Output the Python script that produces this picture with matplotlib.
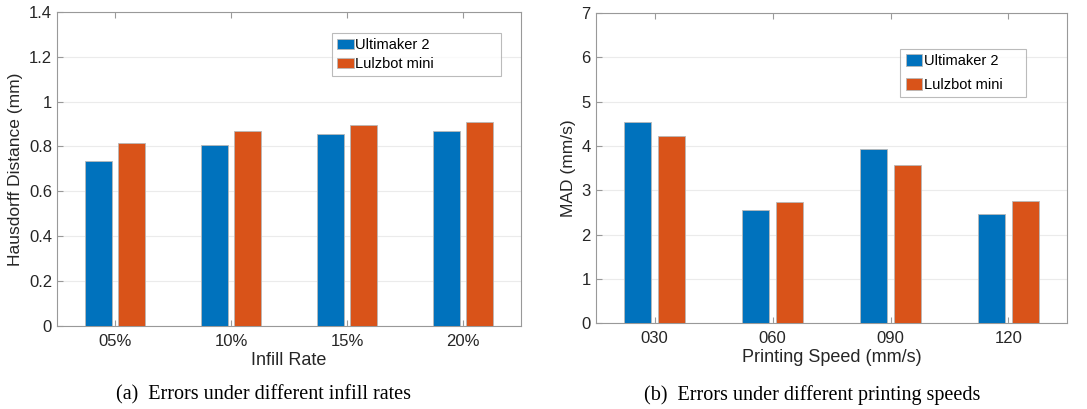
import numpy as np
import matplotlib
matplotlib.use("Agg")
import matplotlib.pyplot as plt

# values
infill = ["05%", "10%", "15%", "20%"]
infill_um2 = [0.735, 0.808, 0.857, 0.870]
infill_lulz = [0.815, 0.868, 0.895, 0.907]

speeds = ["030", "060", "090", "120"]
speed_um2 = [4.55, 2.55, 3.93, 2.47]
speed_lulz = [4.23, 2.73, 3.56, 2.76]

labels = ["Ultimaker 2", "Lulzbot mini"]
BLUE = "#0072BD"
ORANGE = "#D95319"

plt.rcParams['font.family'] = ['Liberation Sans', 'DejaVu Sans']

fig = plt.figure(figsize=(10.87, 4.09), dpi=100)
ax1 = fig.add_axes([0.0524, 0.203, 0.427, 0.768])
ax2 = fig.add_axes([0.548, 0.210, 0.434, 0.758])

W = 0.23
OFF = 0.142


def draw(ax, cats, a, b, ylim, yticks, xlabel, ylabel, leg_box, hh, ls):
    x = np.arange(1, len(cats) + 1)
    ax.bar(x - OFF, a, W, color=BLUE, edgecolor="#b8b8b8", linewidth=0.6, label=labels[0], zorder=3)
    ax.bar(x + OFF, b, W, color=ORANGE, edgecolor="#b8b8b8", linewidth=0.6, label=labels[1], zorder=3)
    ax.set_xlim(0.5, 4.5)
    ax.set_ylim(*ylim)
    ax.set_xticks(x)
    ax.set_xticklabels(cats)
    ax.set_yticks(yticks)
    ax.set_yticklabels([("%g" % t) for t in yticks])
    ax.yaxis.grid(True, color="#ebebeb", linewidth=0.8, zorder=0)
    ax.tick_params(direction="in", length=4, color="#999999", labelsize=12,
                   top=True, right=False, labelcolor="#262626")
    ax.tick_params(axis="x", pad=6)
    for s in ax.spines.values():
        s.set_color("#999999")
        s.set_linewidth(0.8)
    ax.set_xlabel(xlabel, fontsize=13, color="#262626", labelpad=2)
    ax.set_ylabel(ylabel, fontsize=12.5, color="#262626", labelpad=4)
    leg = ax.legend(loc="lower left", bbox_to_anchor=leg_box, mode="expand",
                    fontsize=10.5, frameon=True, fancybox=False,
                    handlelength=1.15, handleheight=hh, handletextpad=0.1,
                    borderpad=0.35, labelspacing=ls, borderaxespad=0)
    leg.get_frame().set_edgecolor("#aaaaaa")
    leg.get_frame().set_linewidth(0.8)


draw(ax1, infill, infill_um2, infill_lulz, (0, 1.4),
     [0, 0.2, 0.4, 0.6, 0.8, 1.0, 1.2, 1.4],
     "Infill Rate", "Hausdorff Distance (mm)",
     (0.592, 0.796, 0.365, 0.118), 0.7, 0.3)
draw(ax2, speeds, speed_um2, speed_lulz, (0, 7),
     [0, 1, 2, 3, 4, 5, 6, 7],
     "Printing Speed (mm/s)", "MAD (mm/s)",
     (0.646, 0.729, 0.267, 0.158), 0.9, 0.7)

fig.text(0.242, 0.035, "(a)  Errors under different infill rates", ha="center", va="center",
         fontsize=14.5, family="Liberation Serif")
fig.text(0.747, 0.035, "(b)  Errors under different printing speeds", ha="center", va="center",
         fontsize=14.5, family="Liberation Serif")

fig.savefig("out.png", dpi=100)
